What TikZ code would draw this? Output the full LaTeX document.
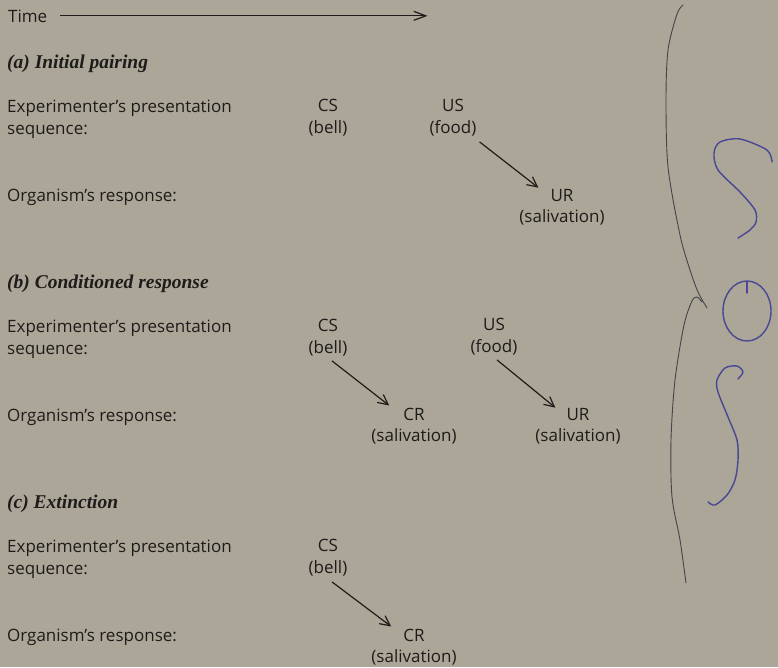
\documentclass[tikz,border=0pt]{standalone}
\usepackage{fontspec}
\setmainfont{Open Sans}
\newfontfamily\headfont{Liberation Serif}
\usetikzlibrary{arrows.meta}
\definecolor{paper}{RGB}{171,166,151}
\definecolor{ink}{RGB}{30,28,27}
\definecolor{biro}{RGB}{72,72,150}
\definecolor{pencil}{RGB}{68,68,74}
\tikzset{
    txt/.style={inner sep=0pt, anchor=base, text=ink, font=\fontsize{17}{20}\selectfont},
    lbl/.style={txt, anchor=base west},
    head/.style={inner sep=0pt, anchor=base west, text=ink, font=\headfont\bfseries\itshape\fontsize{19.5}{22}\selectfont},
    arr/.style={draw=ink, line width=1.2pt, -{Straight Barb[length=10pt,width=10pt]}},
    scrawl/.style={draw=biro, line width=1.4pt, line cap=round, line join=round},
    bracket/.style={draw=pencil, line width=0.9pt, line cap=round}
}

\begin{document}
\begin{tikzpicture}[x=1pt,y=-1pt]
        \fill[paper] (0,0) rectangle (778,667);
        \useasboundingbox (0,0) rectangle (778,667);

        % time axis
        \node[lbl] (time) at (8,22) {Time};
        \coordinate (time-end) at ([xshift=380pt]time.east);
        \draw[arr, -{Straight Barb[length=12pt,width=9pt]}] ([xshift=13pt]time.east) -- (time-end);

        % headings and row labels
        \node[head] (head-a) at (7,68) {(a) Initial pairing};
        \node[head] (head-b) at (7,288) {(b) Conditioned response};
        \node[head] (head-c) at (7,508) {(c) Extinction};
        \foreach \s/\dy in {a/0,b/220,c/440}{
            \node[lbl] (exp-\s) at (7,112+\dy) {Experimenter's presentation};
            \node[lbl] (seq-\s) at (7,134+\dy) {sequence:};
            \node[lbl] (org-\s) at (7,201+\dy) {Organism's response:};
        }

        % (a)
        \node[txt] (cs-a) at (328,111) {CS};
        \node[txt] (bell-a) at (328,133) {(bell)};
        \node[txt] (us-a) at (453,111) {US};
        \node[txt] (food-a) at (453,133) {(food)};
        \node[txt] (ur-a) at (562,201) {UR};
        \node[txt] (saliv-a) at (562,222) {(salivation)};
        \draw[arr] ([shift={(3,6)}]food-a.south east) -- ([shift={(-12,-1)}]ur-a.north west);

        % (b)
        \node[txt] (cs-b) at (328,331) {CS};
        \node[txt] (bell-b) at (328,353) {(bell)};
        \node[txt] (us-b) at (494,330) {US};
        \node[txt] (food-b) at (494,352) {(food)};
        \node[txt] (cr-b) at (414,420) {CR};
        \node[txt] (saliv-cr-b) at (414,441) {(salivation)};
        \node[txt] (ur-b) at (578,420) {UR};
        \node[txt] (saliv-ur-b) at (578,441) {(salivation)};
        \draw[arr] ([shift={(4,5)}]bell-b.south) -- ([shift={(-14,-2)}]cr-b.north west);
        \draw[arr] ([shift={(3,5)}]food-b.south) -- ([shift={(-11,0)}]ur-b.north west);

        % (c)
        \node[txt] (cs-c) at (328,551) {CS};
        \node[txt] (bell-c) at (328,573) {(bell)};
        \node[txt] (cr-c) at (414,641) {CR};
        \node[txt] (saliv-c) at (414,662) {(salivation)};
        \draw[arr] ([shift={(4,6)}]bell-c.south) -- ([shift={(-12,-2)}]cr-c.north west);

        % handwriting in the margin
        \draw[bracket] plot[smooth] coordinates {(683,5) (677,14) (668,50) (666,100) (668,167) (680,235) (690,270) (698,292) (707,308)};
        \draw[bracket] plot[smooth] coordinates {(702,302) (697,297) (692,301) (684,325) (675,380) (671,440) (672,497) (680,540) (686,583)};
        \draw[scrawl] plot[smooth] coordinates {(772,162) (767,150) (740,139) (720,142) (714,153) (718,170) (740,192) (755,210) (756,222) (750,230) (738,238)};
        \draw[scrawl] (747,311) ellipse [x radius=24, y radius=30];
        \draw[scrawl] (747,282) -- (747,293);
        \draw[scrawl] plot[smooth] coordinates {(738,379) (743,372) (737,366) (725,368) (717,380) (718,392) (728,417) (737,440) (738,460) (735,480) (727,495) (715,505) (708,502)};
\end{tikzpicture}
\end{document}
